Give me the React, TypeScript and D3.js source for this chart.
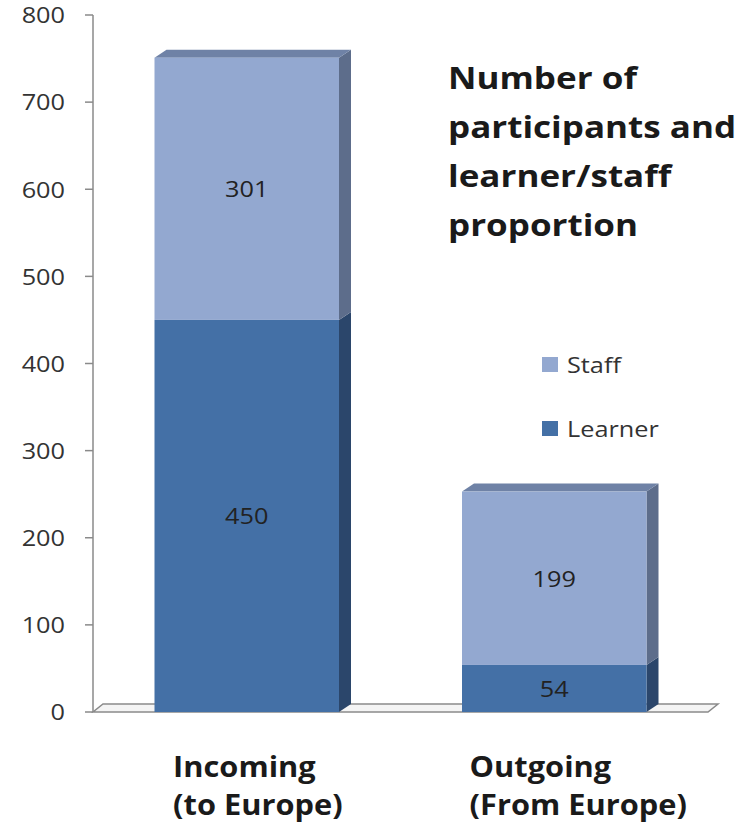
import * as d3 from "d3";

const categories = ["Incoming", "Outgoing"];
const categoryLines = [
  ["Incoming", "(to Europe)"],
  ["Outgoing", "(From Europe)"],
];
const seriesNames = ["Learner", "Staff"];
const learnerValues = [450, 54];
const staffValues = [301, 199];
const yTicks = [0, 100, 200, 300, 400, 500, 600, 700, 800];
const titleLines = ["Number of", "participants and", "learner/staff", "proportion"];

const colors: Record<string, { front: string; side: string; top: string }> = {
  Learner: { front: "#4470A6", side: "#2B466B", top: "#3A5F8E" },
  Staff: { front: "#93A8D0", side: "#5D6D8B", top: "#6F82A6" },
};

const font = "'Open Sans', 'DejaVu Sans', sans-serif";
// the source picture is a bit wider than tall, so stretch the type to match
const stretch = 1.15;

export default function App() {
  const width = 753;
  const height = 828;
  const left = 93;
  const right = 708;
  const bottom = 712;
  const top = 15;
  const depthX = 12;
  const depthY = 8;

  const x = d3
    .scaleBand<string>()
    .domain(categories)
    .range([left, right])
    .paddingInner(0.4)
    .paddingOuter(0.2);
  const y = d3.scaleLinear().domain([0, 800]).range([bottom, top]);

  const rows = categories.map((c, i) => ({
    category: c,
    Learner: learnerValues[i],
    Staff: staffValues[i],
  }));
  const stacked = d3.stack<(typeof rows)[number]>().keys(seriesNames)(rows);

  const floor = [
    [left, bottom],
    [right, bottom],
    [right + 10, bottom - depthY],
    [left + 10, bottom - depthY],
  ];

  return (
    <svg
      width={width}
      height={height}
      style={{ position: "absolute", left: 0, top: 0, background: "#fff" }}
    >
      {/* floor */}
      <polygon
        points={floor.map((p) => p.join(",")).join(" ")}
        fill="#f4f4f4"
        stroke="#8a8a8a"
        strokeWidth={1.5}
      />

      {/* y axis */}
      <line x1={left} x2={left} y1={top} y2={bottom} stroke="#8a8a8a" strokeWidth={1.5} />
      {yTicks.map((t) => (
        <g key={t}>
          <line x1={left - 8} x2={left} y1={y(t)} y2={y(t)} stroke="#8a8a8a" strokeWidth={1.5} />
          <text
            transform={`translate(65, ${y(t)}) scale(${stretch}, 1)`}
            textAnchor="end"
            dominantBaseline="central"
            fontFamily={font}
            fontSize={22}
            fill="#333"
          >
            {t}
          </text>
        </g>
      ))}

      {/* bars */}
      {stacked.map((layer) => {
        const c = colors[layer.key];
        return (
          <g key={layer.key}>
            {layer.map((d, i) => {
              const x0 = x(categories[i]) ?? 0;
              const x1 = x0 + x.bandwidth();
              const y0 = y(d[0]);
              const y1 = y(d[1]);
              const isTop = layer.key === seriesNames[seriesNames.length - 1];
              const side = `${x1},${y1} ${x1 + depthX},${y1 - depthY} ${x1 + depthX},${y0 - depthY} ${x1},${y0}`;
              const topFace = `${x0},${y1} ${x0 + depthX},${y1 - depthY} ${x1 + depthX},${y1 - depthY} ${x1},${y1}`;
              return (
                <g key={i}>
                  <polygon points={side} fill={c.side} />
                  {isTop && <polygon points={topFace} fill={c.top} />}
                  <rect x={x0} y={y1} width={x1 - x0} height={y0 - y1} fill={c.front} />
                  <text
                    transform={`translate(${(x0 + x1) / 2}, ${(y0 + y1) / 2}) scale(${stretch}, 1)`}
                    textAnchor="middle"
                    dominantBaseline="central"
                    fontFamily={font}
                    fontSize={22}
                    fill="#222"
                  >
                    {d[1] - d[0]}
                  </text>
                </g>
              );
            })}
          </g>
        );
      })}

      {/* category labels */}
      {categories.map((c, i) => {
        const x0 = (x(c) ?? 0) + x.bandwidth() * 0.09 + (i === 0 ? 2 : -9);
        return (
          <g key={c}>
            {categoryLines[i].map((line, j) => (
              <text
                key={j}
                transform={`translate(${x0}, ${777 + j * 38}) scale(1.1, 1)`}
                fontFamily={font}
                fontSize={28}
                fontWeight="bold"
                fill="#1a1a1a"
              >
                {line}
              </text>
            ))}
          </g>
        );
      })}

      {/* title */}
      {titleLines.map((line, j) => (
        <text
          key={j}
          transform={`translate(448, ${89 + j * 49}) scale(1.13, 1)`}
          fontFamily={font}
          fontSize={31}
          fontWeight="bold"
          fill="#1a1a1a"
        >
          {line}
        </text>
      ))}

      {/* legend */}
      {[...seriesNames].reverse().map((s, i) => (
        <g key={s} transform={`translate(542, ${357 + i * 64})`}>
          <rect width={16} height={15} fill={colors[s].front} />
          <text
            transform={`translate(25, 8) scale(${stretch}, 1)`}
            dominantBaseline="central"
            fontFamily={font}
            fontSize={22}
            fill="#333"
          >
            {s}
          </text>
        </g>
      ))}
    </svg>
  );
}
